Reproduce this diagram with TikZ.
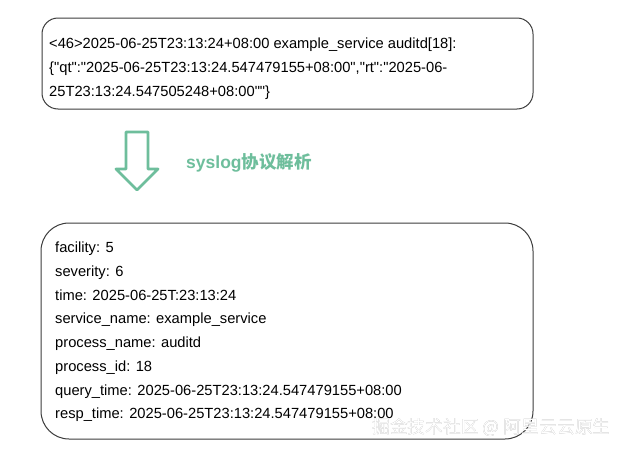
\documentclass[tikz,border=0pt]{standalone}
\usepackage{fontspec}
\usepackage[outline]{contour}
\contourlength{0.6pt}
\newfontfamily\lib{Liberation Sans}
\setmainfont{Liberation Sans}
\newfontfamily\cjk{Noto Sans CJK SC}
\definecolor{arrowgreen}{RGB}{110,190,156}
\definecolor{boxline}{RGB}{60,60,60}
\begin{document}
\begin{tikzpicture}[x=1pt,y=-1pt,
  box/.style={draw=boxline, line width=1pt},
  txt/.style={anchor=base west, inner sep=0pt, font=\lib\fontsize{14.7}{18}\selectfont, text=black},
  flow/.style={draw=arrowgreen, line width=2.8pt, fill=white, line join=round}]
\path[use as bounding box, fill=white] (0,0) rectangle (627,450);
% top box
\draw[box, rounded corners=16pt] (42,18) rectangle (533,109);
\node[txt] (t1) at (49,48) {<46>2025-06-25T23:13:24+08:00 example\_service auditd[18]:};
\node[txt] (t2) at (49,72) {\{"qt":"2025-06-25T23:13:24.547479155+08:00","rt":"2025-06-};
\node[txt] (t3) at (49,96) {25T23:13:24.547505248+08:00""\}};
% arrow
\draw[flow] (126,132) -- (148,132) -- (148,169) -- (158,169) -- (137,190) -- (116,169) -- (126,169) -- cycle;
\node[anchor=west, inner sep=0pt, text=arrowgreen, font=\lib\fontsize{17.5}{18}\selectfont\bfseries] (lbl) at (186,163) {syslog{\cjk\bfseries 协议解析}};
% bottom box
\draw[box, rounded corners=28pt] (41,223) rectangle (533,439);
\node[txt] (b1) at (55,252) {facility: 5};
\node[txt] (b2) at (55,276) {severity: 6};
\node[txt] (b3) at (55,300) {time: 2025-06-25T:23:13:24};
\node[txt] (b4) at (55,323.5) {service\_name: example\_service};
\node[txt] (b5) at (55,347) {process\_name: auditd};
\node[txt] (b6) at (55,371) {process\_id: 18};
\node[txt] (b7) at (55,395) {query\_time: 2025-06-25T23:13:24.547479155+08:00};
\node[txt] (b8) at (55,418.5) {resp\_time: 2025-06-25T23:13:24.547479155+08:00};
% watermark
\node[anchor=west, inner sep=0pt, font=\cjk\fontsize{17.8}{18}\selectfont] (wm) at (372,427) {\contour{gray!80}{\textcolor{white}{掘金技术社区 @ 阿里云云原生}}};
\end{tikzpicture}
\end{document}
